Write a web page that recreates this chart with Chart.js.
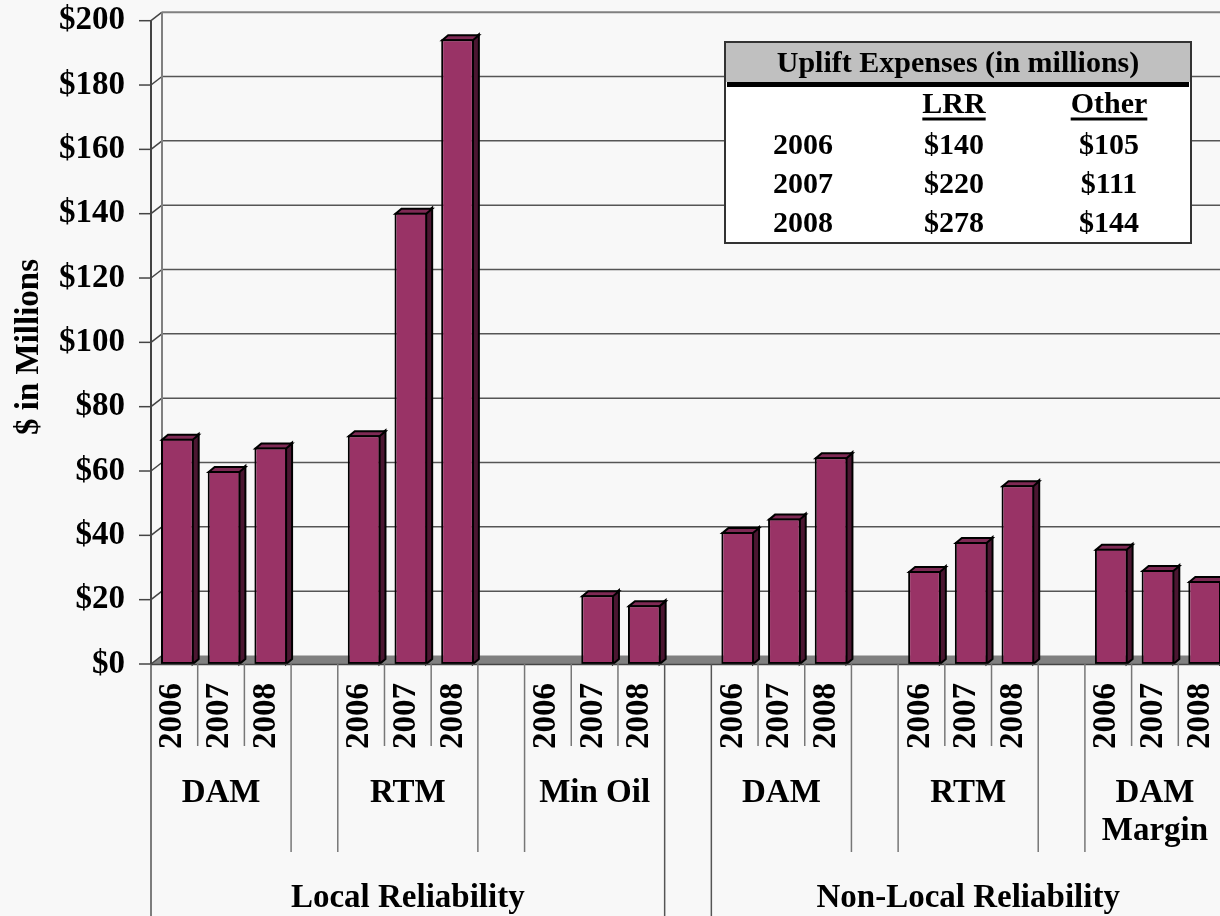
<!DOCTYPE html>
<html><head><meta charset="utf-8">
<script src="https://cdn.jsdelivr.net/npm/chart.js@4/dist/chart.umd.min.js"></script>
<style>html,body{margin:0;padding:0;overflow:hidden;background:#f8f8f8}#wrap{position:relative;width:1226px;height:916px}</style>
</head><body><div id="wrap"><canvas id="c"></canvas></div>
<script>
// ---- data ----
const years = ['2006', '2007', '2008'];
const groupNames = ['DAM', 'RTM', 'Min Oil', 'DAM', 'RTM', 'DAM\nMargin'];
const groupSection = [0, 0, 0, 1, 1, 1];
const sectionNames = ['Local Reliability', 'Non-Local Reliability'];
const localDam = [70, 60, 67.3];
const localRtm = [71.1, 140.3, 194.2];
const localMinOil = [null, 21.4, 18.3];
const nonLocalDam = [41, 45.2, 64.3];
const nonLocalRtm = [28.9, 37.9, 55.6];
const nonLocalDamMargin = [35.8, 29.2, 25.8];
const groupValues = [localDam, localRtm, localMinOil, nonLocalDam, nonLocalRtm, nonLocalDamMargin];
const yMin = 0, yMax = 200, yStep = 20;
const yTitle = '$ in Millions';
const tableTitle = 'Uplift Expenses (in millions)';
const tableColumns = ['LRR', 'Other'];
const tableYears = ['2006', '2007', '2008'];
const lrrValues = ['$140', '$220', '$278'];
const otherValues = ['$105', '$111', '$144'];

// ---- build slots (with spacer slots between groups) ----
const labels = [], values = [], slots = [];
groupNames.forEach((g, gi) => {
  years.forEach((yr, yi) => {
    labels.push(yr); values.push(groupValues[gi][yi]);
    slots.push({ spacer: false, group: gi });
  });
  if (gi < groupNames.length - 1) {
    labels.push(''); values.push(null);
    slots.push({ spacer: true, sectionGap: groupSection[gi] !== groupSection[gi + 1] });
  }
});

const FONT = '"Liberation Serif", "Times New Roman", serif';
const WALL_DX = 11, WALL_DY = -8.5;
const BAR_DX = 6, BAR_DY = -5, BAR_SHIFT = 3;

const decor = {
  id: 'decor',
  beforeDraw(chart) {
    const { ctx, chartArea: a, scales: { y } } = chart;
    const W = chart.width;
    ctx.save();
    ctx.fillStyle = '#f8f8f8';
    ctx.fillRect(0, 0, W, chart.height);
    // floor
    ctx.fillStyle = '#808080';
    ctx.beginPath();
    ctx.moveTo(a.left, a.bottom);
    ctx.lineTo(a.left + WALL_DX, a.bottom + WALL_DY);
    ctx.lineTo(W, a.bottom + WALL_DY);
    ctx.lineTo(W, a.bottom);
    ctx.closePath(); ctx.fill();
    // gridlines on back wall, diagonals, ticks
    for (let v = yMin; v <= yMax; v += yStep) {
      const py = y.getPixelForValue(v);
      ctx.strokeStyle = v === yMax ? '#808080' : '#555';
      ctx.lineWidth = v === yMax ? 2 : 1.5;
      if (v > yMin) {
        ctx.beginPath(); ctx.moveTo(a.left + WALL_DX, py + WALL_DY); ctx.lineTo(W, py + WALL_DY); ctx.stroke();
      }
      ctx.strokeStyle = '#444'; ctx.lineWidth = 1.5;
      ctx.beginPath(); ctx.moveTo(a.left, py); ctx.lineTo(a.left + WALL_DX, py + WALL_DY); ctx.stroke();
      ctx.beginPath(); ctx.moveTo(a.left - 12, py); ctx.lineTo(a.left, py); ctx.stroke();
    }
    // back wall left edge
    ctx.strokeStyle = '#808080'; ctx.lineWidth = 2;
    ctx.beginPath(); ctx.moveTo(a.left + WALL_DX, a.top + WALL_DY); ctx.lineTo(a.left + WALL_DX, a.bottom + WALL_DY); ctx.stroke();
    // front axis
    ctx.strokeStyle = '#444'; ctx.lineWidth = 2;
    ctx.beginPath(); ctx.moveTo(a.left, a.top); ctx.lineTo(a.left, a.bottom); ctx.stroke();
    ctx.restore();
  },
  beforeDatasetsDraw(chart) {
    const { ctx } = chart;
    ctx.save();
    ctx.translate(BAR_SHIFT, 0);
    const meta = chart.getDatasetMeta(0);
    meta.data.forEach((el, i) => {
      if (values[i] == null) return;
      const l = el.x - el.width / 2, r = el.x + el.width / 2, t = el.y, b = el.base;
      ctx.lineWidth = 2; ctx.strokeStyle = '#000'; ctx.lineJoin = 'miter';
      // side
      ctx.fillStyle = '#4b1631';
      ctx.beginPath();
      ctx.moveTo(r - 1, t); ctx.lineTo(r - 1 + BAR_DX, t + BAR_DY); ctx.lineTo(r - 1 + BAR_DX, b + BAR_DY); ctx.lineTo(r - 1, b);
      ctx.closePath(); ctx.fill(); ctx.stroke();
      // top
      ctx.fillStyle = '#7f2a55';
      ctx.beginPath();
      ctx.moveTo(l + 1, t + 1); ctx.lineTo(l + 1 + BAR_DX, t + 1 + BAR_DY); ctx.lineTo(r - 1 + BAR_DX, t + 1 + BAR_DY); ctx.lineTo(r - 1, t + 1);
      ctx.closePath(); ctx.fill(); ctx.stroke();
    });
  },
  afterDatasetsDraw(chart) {
    chart.ctx.restore();
  },
  afterDraw(chart) {
    const { ctx, chartArea: a, scales: { x } } = chart;
    const n = labels.length;
    const slotW = (a.right - a.left) / n;
    const bx = b => a.left + b * slotW;
    ctx.save();
    // front axis bottom line
    ctx.strokeStyle = '#444'; ctx.lineWidth = 1.5;
    ctx.beginPath(); ctx.moveTo(a.left, a.bottom + 0.5); ctx.lineTo(chart.width, a.bottom + 0.5); ctx.stroke();
    // separators
    const yearEnd = 746, groupEnd = 852, fullEnd = chart.height;
    for (let b = 0; b <= n; b++) {
      let end;
      const L = slots[b - 1], R = slots[b];
      if (!L || !R) end = fullEnd;
      else if ((L.spacer && L.sectionGap) || (R.spacer && R.sectionGap)) end = fullEnd;
      else if (L.spacer || R.spacer) end = groupEnd;
      else end = yearEnd;
      ctx.strokeStyle = end === fullEnd ? '#555' : '#777';
      ctx.lineWidth = 1.5;
      ctx.beginPath(); ctx.moveTo(bx(b), a.bottom); ctx.lineTo(bx(b), end); ctx.stroke();
    }
    ctx.fillStyle = '#000';
    // year labels (rotated)
    ctx.font = 'bold 33px ' + FONT;
    labels.forEach((lab, i) => {
      if (!lab) return;
      const cx = x.getPixelForValue(i) - 1.5;
      ctx.save();
      ctx.translate(cx, 683);
      ctx.rotate(-Math.PI / 2);
      ctx.textAlign = 'right'; ctx.textBaseline = 'middle';
      ctx.fillText(lab, 0, 0);
      ctx.restore();
    });
    // group labels
    ctx.textAlign = 'center'; ctx.textBaseline = 'alphabetic';
    groupNames.forEach((g, gi) => {
      const idx = slots.map((s, i) => (!s.spacer && s.group === gi) ? i : -1).filter(i => i >= 0);
      const cx = (x.getPixelForValue(idx[0]) + x.getPixelForValue(idx[idx.length - 1])) / 2;
      g.split('\n').forEach((line, li) => ctx.fillText(line, cx, 802 + li * 38));
    });
    // section labels
    sectionNames.forEach((s, si) => {
      const idx = slots.map((sl, i) => (!sl.spacer && groupSection[sl.group] === si) ? i : -1).filter(i => i >= 0);
      const cx = (x.getPixelForValue(idx[0]) + x.getPixelForValue(idx[idx.length - 1])) / 2;
      ctx.fillText(s, cx, 907);
    });
    // y title
    ctx.save();
    ctx.translate(29, 347);
    ctx.rotate(-Math.PI / 2);
    ctx.textAlign = 'center'; ctx.textBaseline = 'middle';
    ctx.fillText(yTitle, 0, 0);
    ctx.restore();
    // table
    const tx0 = 725, tx1 = 1191, ty0 = 42, ty1 = 243;
    ctx.fillStyle = '#ffffff'; ctx.fillRect(tx0, ty0, tx1 - tx0, ty1 - ty0);
    ctx.fillStyle = '#c0c0c0'; ctx.fillRect(tx0, ty0, tx1 - tx0, 40);
    ctx.fillStyle = '#000'; ctx.fillRect(tx0 + 2, 82, tx1 - tx0 - 4, 5);
    ctx.strokeStyle = '#333'; ctx.lineWidth = 2; ctx.strokeRect(tx0, ty0, tx1 - tx0, ty1 - ty0);
    ctx.font = 'bold 30px ' + FONT;
    ctx.fillStyle = '#000'; ctx.textAlign = 'center';
    ctx.fillText(tableTitle, 958, 72);
    const colX = [954, 1109];
    tableColumns.forEach((c, ci) => {
      ctx.fillText(c, colX[ci], 113);
      const w = ctx.measureText(c).width;
      ctx.fillRect(colX[ci] - w / 2, 117.5, w, 3);
    });
    tableYears.forEach((yr, ri) => {
      const by = 154 + ri * 39;
      ctx.fillText(yr, 803, by);
      ctx.fillText(lrrValues[ri], colX[0], by);
      ctx.fillText(otherValues[ri], colX[1], by);
    });
    ctx.restore();
  }
};

new Chart(document.getElementById('c'), {
  type: 'bar',
  data: {
    labels: labels,
    datasets: [{
      data: values,
      backgroundColor: '#993366',
      borderColor: '#000',
      borderWidth: 2,
      borderSkipped: false,
      barPercentage: 0.7,
      categoryPercentage: 1
    }]
  },
  options: {
    responsive: true,
    maintainAspectRatio: false,
    animation: false,
    layout: { padding: { top: 20.7, bottom: 252, right: 1, left: 0 } },
    plugins: { legend: { display: false }, tooltip: { enabled: false } },
    scales: {
      x: { display: false, offset: true },
      y: {
        min: yMin, max: yMax,
        grid: { display: false },
        border: { display: false },
        ticks: {
          stepSize: yStep,
          padding: 18,
          color: '#000',
          font: { family: FONT, size: 33, weight: 'bold' },
          callback: v => '$' + v
        },
        afterFit(scale) { scale.width = 151; scale.paddingTop = 0; scale.paddingBottom = 0; }
      }
    }
  },
  plugins: [decor]
});
</script></body></html>
